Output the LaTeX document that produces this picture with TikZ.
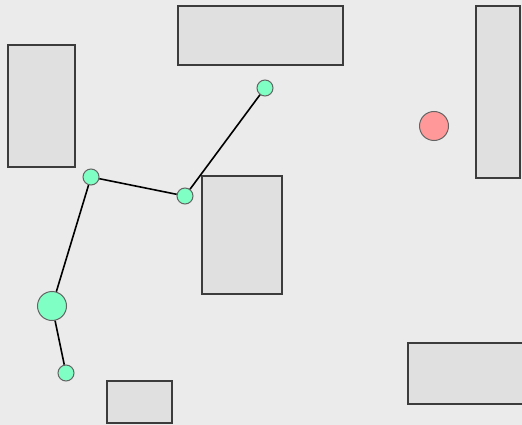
\documentclass[tikz,border=0pt]{standalone}
\usepackage{tikz}
\definecolor{mapBack}{RGB}{234, 235, 234}
\definecolor{mapWall}{RGB}{224, 224, 224}
\definecolor{mapEdge}{RGB}{60, 60, 60}
\definecolor{wayGreen}{RGB}{128, 255, 196}
\definecolor{goalRed}{RGB}{255, 153, 153}
\definecolor{dotRim}{RGB}{100, 100, 100}

\begin{document}
\begin{tikzpicture}[x=1pt, y=-1pt,
  wall/.style={draw=mapEdge, fill=mapWall, line width=1.2pt},
  wp/.style={circle, draw=dotRim, fill=wayGreen, line width=1pt,
             inner sep=0pt, minimum size=16pt},
  wpbig/.style={wp, minimum size=29pt},
  goal/.style={circle, draw=dotRim, fill=goalRed, line width=1pt,
               inner sep=0pt, minimum size=29pt},
  link/.style={black, line width=1.6pt},
]
  \useasboundingbox (0,0) rectangle (522,425);
  \fill[mapBack] (0,0) rectangle (522,425);
  \clip (0,0) rectangle (522,425);

  % Obstacles
  \draw[wall] (8,45) rectangle (75,167);
  \draw[wall] (178,6) rectangle (343,65);
  \draw[wall] (476,6) rectangle (520,178);
  \draw[wall] (202,176) rectangle (282,294);
  \draw[wall] (107,381) rectangle (172,423);
  \draw[wall] (408,343) rectangle (526,404);

  % Waypoints
  \node[wp] (p1) at (265,88) {};
  \node[wp] (p2) at (185,196) {};
  \node[wp] (p3) at (91,177) {};
  \node[wpbig] (p4) at (52,306) {};
  \node[wp] (p5) at (66,373) {};

  % Goal
  \node[goal] (gl) at (434,126) {};

  % Path
  \draw[link] (p1) -- (p2);
  \draw[link] (p2) -- (p3);
  \draw[link] (p3) -- (p4);
  \draw[link] (p4) -- (p5);
\end{tikzpicture}
\end{document}
